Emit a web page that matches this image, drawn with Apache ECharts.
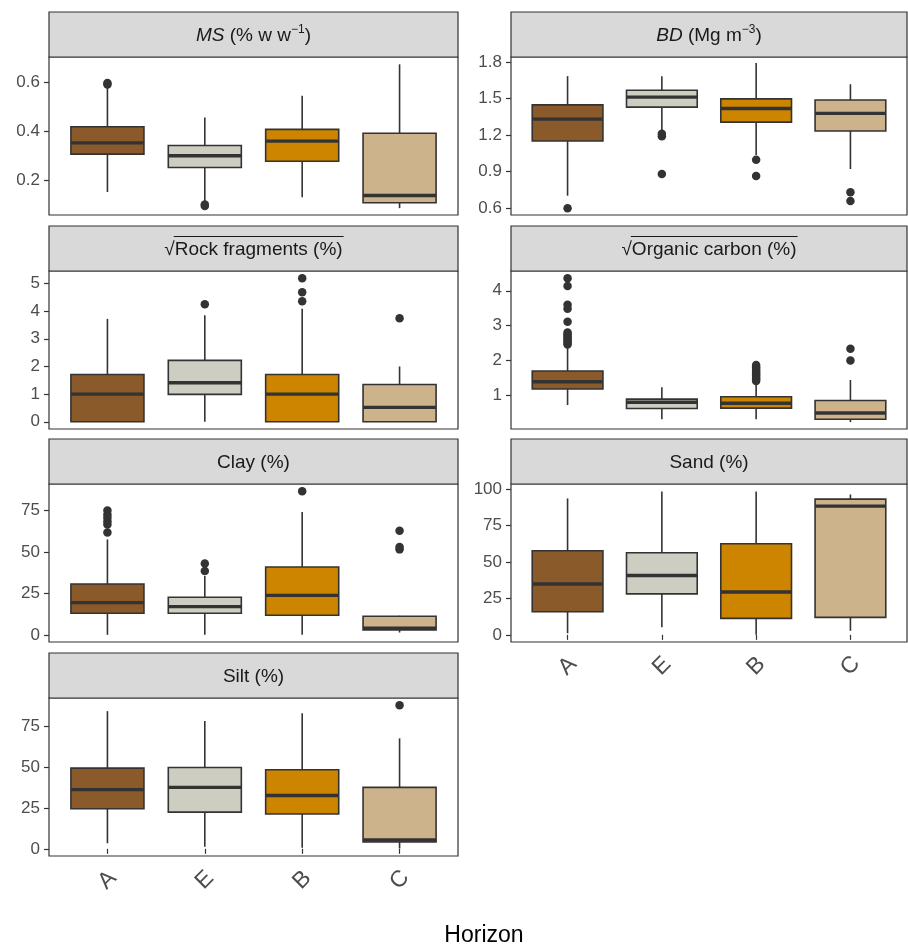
<!DOCTYPE html>
<html>
<head>
<meta charset="utf-8">
<script src="https://cdn.jsdelivr.net/npm/echarts@6/dist/echarts.min.js"></script>
<style>
  html, body { margin: 0; padding: 0; background: #fff; }
  #main { width: 908px; height: 945px; }
</style>
</head>
<body>
<div id="main"></div>
<script>
// horizons and fill colours
var horizons = ['A', 'E', 'B', 'C'];
var fillColors = ['#8B5A2B', '#CDCDC1', '#CD8500', '#CDB38B'];

// box stats per horizon: [low whisker, Q1, median, Q3, high whisker]
// outliers: [horizon position (1..4), value]
var msBox = [[0.152, 0.307, 0.353, 0.419, 0.585], [0.110, 0.252, 0.300, 0.342, 0.457], [0.131, 0.278, 0.360, 0.408, 0.546], [0.086, 0.108, 0.138, 0.392, 0.674]];
var msOut = [[1, 0.592], [1, 0.598], [2, 0.095], [2, 0.101]];
var msTicks = [0.2, 0.4, 0.6];

var bdBox = [[0.703, 1.151, 1.331, 1.448, 1.683], [1.227, 1.429, 1.511, 1.568, 1.683], [1.036, 1.306, 1.418, 1.497, 1.79], [0.922, 1.233, 1.378, 1.487, 1.617]];
var bdOut = [[1, 0.60], [2, 1.19], [2, 1.21], [2, 0.881], [3, 0.998], [3, 0.864], [4, 0.731], [4, 0.66]];
var bdTicks = [0.6, 0.9, 1.2, 1.5, 1.8];

var rockBox = [[0, 0, 1.0, 1.71, 3.72], [0, 0.99, 1.41, 2.22, 3.85], [0, 0, 1.0, 1.71, 4.09], [0, 0, 0.52, 1.35, 2.0]];
var rockOut = [[2, 4.25], [3, 4.36], [3, 4.68], [3, 5.19], [4, 3.74]];
var rockTicks = [0, 1, 2, 3, 4, 5];

var ocBox = [[0.71, 1.17, 1.38, 1.69, 2.40], [0.30, 0.61, 0.79, 0.88, 1.22], [0.30, 0.62, 0.76, 0.95, 1.33], [0.22, 0.30, 0.48, 0.84, 1.43]];
var ocOut = [[1, 2.45], [1, 2.5], [1, 2.55], [1, 2.6], [1, 2.65], [1, 2.7], [1, 2.75], [1, 2.8], [1, 3.11], [1, 3.48], [1, 3.6], [1, 4.14], [1, 4.36],
             [3, 1.4], [3, 1.45], [3, 1.5], [3, 1.55], [3, 1.6], [3, 1.65], [3, 1.7], [3, 1.75], [3, 1.8], [3, 1.86], [4, 1.99], [4, 2.33]];
var ocTicks = [1, 2, 3, 4];

var clayBox = [[0, 13, 19.4, 30.6, 57.5], [0, 13, 17, 22.6, 35.5], [0, 11.8, 23.8, 40.9, 74], [1.4, 3, 4, 11.2, 11.5]];
var clayOut = [[1, 61.7], [1, 66.5], [1, 68.5], [1, 70.5], [1, 72.5], [1, 74.9], [2, 38.5], [2, 43], [3, 86.6], [4, 51.5], [4, 53], [4, 62.7]];
var clayTicks = [0, 25, 50, 75];

var sandBox = [[1.1, 15.9, 34.9, 57.7, 93.6], [5.3, 28.1, 40.7, 56.3, 98.4], [0, 11.3, 29.4, 62.5, 98.4], [2.8, 12, 88.3, 93.1, 96.3]];
var sandOut = [];
var sandTicks = [0, 25, 50, 75, 100];

var siltBox = [[3.4, 24.4, 36.1, 49.2, 84], [1.2, 22.4, 37.5, 49.6, 77.9], [0.6, 21.2, 32.5, 48.2, 82.7], [0.2, 4.2, 5.4, 37.5, 67.4]];
var siltOut = [[4, 87.6]];
var siltTicks = [0, 25, 50, 75];

var panels = [
  {title: '{i|MS} (% w w{sup|−1})', box: msBox, out: msOut, ticks: msTicks, min: 0.058, max: 0.704, dec: 1, col: 0, row: 0},
  {title: '{i|BD} (Mg m{sup|−3})', box: bdBox, out: bdOut, ticks: bdTicks, min: 0.545, max: 1.84, dec: 1, col: 1, row: 0},
  {title: '√Rock fragments (%)', sqrt: true, box: rockBox, out: rockOut, ticks: rockTicks, min: -0.26, max: 5.45, dec: 0, col: 0, row: 1},
  {title: '√Organic carbon (%)', sqrt: true, box: ocBox, out: ocOut, ticks: ocTicks, min: 0.02, max: 4.57, dec: 0, col: 1, row: 1},
  {title: 'Clay (%)', box: clayBox, out: clayOut, ticks: clayTicks, min: -4.33, max: 90.9, dec: 0, col: 0, row: 2},
  {title: 'Sand (%)', box: sandBox, out: sandOut, ticks: sandTicks, min: -4.9, max: 103.5, dec: 0, col: 1, row: 2, xlab: true},
  {title: 'Silt (%)', box: siltBox, out: siltOut, ticks: siltTicks, min: -4.38, max: 92, dec: 0, col: 0, row: 3, xlab: true}
];

var colX = [[49, 458], [511, 907]];
var rowTop = [57, 271, 484, 698];
var panelH = 158, stripH = 45;
var stroke = '#333333';
var fontFam = '"Liberation Sans", Arial, sans-serif';

var measure = document.createElement('canvas').getContext('2d');

function renderBox(params, api) {
  var x = api.value(0);
  var half = api.size([0.75, 0])[0] / 2;
  var pLow = api.coord([x, api.value(1)]);
  var pQ1 = api.coord([x, api.value(2)]);
  var pMed = api.coord([x, api.value(3)]);
  var pQ3 = api.coord([x, api.value(4)]);
  var pHigh = api.coord([x, api.value(5)]);
  return {
    type: 'group',
    children: [
      {type: 'line', shape: {x1: pLow[0], y1: pLow[1], x2: pQ1[0], y2: pQ1[1]}, style: {stroke: stroke, lineWidth: 1.6}},
      {type: 'line', shape: {x1: pQ3[0], y1: pQ3[1], x2: pHigh[0], y2: pHigh[1]}, style: {stroke: stroke, lineWidth: 1.6}},
      {type: 'rect', shape: {x: pQ3[0] - half, y: pQ3[1], width: half * 2, height: pQ1[1] - pQ3[1]},
        style: {fill: fillColors[x - 1], stroke: stroke, lineWidth: 1.6}},
      {type: 'line', shape: {x1: pMed[0] - half, y1: pMed[1], x2: pMed[0] + half, y2: pMed[1]}, style: {stroke: stroke, lineWidth: 3.4}}
    ]
  };
}

var grids = [], xAxes = [], yAxes = [], series = [], graphics = [];

panels.forEach(function (p, i) {
  var left = colX[p.col][0], right = colX[p.col][1];
  var top = rowTop[p.row];
  grids.push({left: left, top: top, width: right - left, height: panelH,
    show: true, borderColor: stroke, borderWidth: 1.2, backgroundColor: '#fff'});

  xAxes.push({
    type: 'value', gridIndex: i, min: 0.4, max: 4.6,
    axisLine: {show: false}, splitLine: {show: false},
    axisTick: {show: !!p.xlab, length: 5, lineStyle: {color: stroke, width: 1.2}, customValues: [1, 2, 3, 4]},
    axisLabel: {show: !!p.xlab, customValues: [1, 2, 3, 4], rotate: 45, align: 'center', verticalAlign: 'middle',
      margin: 24, fontSize: 23, color: '#4D4D4D', fontFamily: fontFam,
      formatter: function (v) { return horizons[Math.round(v) - 1]; }}
  });

  yAxes.push({
    type: 'value', gridIndex: i, min: p.min, max: p.max,
    axisLine: {show: false}, splitLine: {show: false},
    axisTick: {show: true, length: 5, lineStyle: {color: stroke, width: 1.2}, customValues: p.ticks},
    axisLabel: {customValues: p.ticks, margin: 9, fontSize: 17, color: '#4D4D4D', fontFamily: fontFam,
      formatter: function (v) { return v.toFixed(p.dec); }}
  });

  series.push({
    type: 'custom', xAxisIndex: i, yAxisIndex: i,
    renderItem: renderBox,
    encode: {x: 0, y: [1, 2, 3, 4, 5]},
    data: p.box.map(function (b, k) { return [k + 1].concat(b); }),
    silent: true
  });
  series.push({
    type: 'scatter', xAxisIndex: i, yAxisIndex: i,
    data: p.out, symbolSize: 8.5,
    itemStyle: {color: stroke, opacity: 1}, silent: true, z: 5
  });

  // strip header
  var stripTop = top - stripH;
  var cx = (left + right) / 2;
  graphics.push({type: 'rect', shape: {x: left, y: stripTop, width: right - left, height: stripH},
    style: {fill: '#D9D9D9', stroke: stroke, lineWidth: 1.2}, z: 10});
  graphics.push({type: 'text', x: cx, y: stripTop + stripH / 2 + 1, z: 11,
    style: {text: p.title, x: 0, y: 0, align: 'center', verticalAlign: 'middle',
      fill: '#1A1A1A', font: '19px ' + fontFam,
      rich: {
        i: {fontStyle: 'italic', fontSize: 19, fontFamily: fontFam, fill: '#1A1A1A', lineHeight: 24},
        sup: {fontSize: 12, fontFamily: fontFam, fill: '#1A1A1A', padding: [0, 0, 12, 0], lineHeight: 24}
      }}});
  if (p.sqrt) {
    measure.font = '19px ' + fontFam;
    var w = measure.measureText(p.title).width;
    var r = measure.measureText('√').width;
    var x0 = cx - w / 2 + r * 0.9;
    graphics.push({type: 'line', z: 11, shape: {x1: x0, y1: stripTop + 10.5, x2: cx + w / 2 + 1, y2: stripTop + 10.5},
      style: {stroke: '#1A1A1A', lineWidth: 1}});
  }
});

graphics.push({type: 'text', x: 484, y: 936, z: 11,
  style: {text: 'Horizon', x: 0, y: 0, align: 'center', verticalAlign: 'middle', fill: '#000', font: '23px ' + fontFam}});

var myChart = echarts.init(document.getElementById('main'));
myChart.setOption({
  animation: false,
  grid: grids,
  xAxis: xAxes,
  yAxis: yAxes,
  series: series,
  graphic: graphics
});
</script>
</body>
</html>
